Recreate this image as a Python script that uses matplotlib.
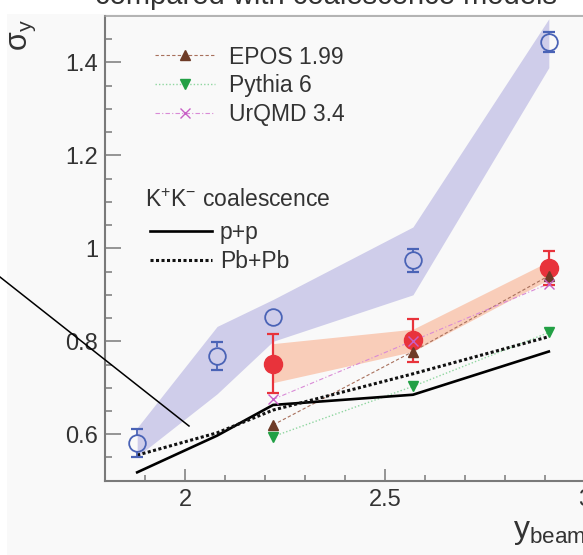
import matplotlib
matplotlib.use('Agg')
import matplotlib.pyplot as plt
from matplotlib.lines import Line2D
from matplotlib.patches import Rectangle
import numpy as np

plt.rcParams['font.family'] = ['Liberation Sans', 'DejaVu Sans']
plt.rcParams['mathtext.fontset'] = 'custom'
plt.rcParams['mathtext.rm'] = 'Liberation Sans'
plt.rcParams['mathtext.it'] = 'Liberation Sans'
plt.rcParams['mathtext.sf'] = 'Liberation Sans'

# ---------------- data ----------------
y_beam = [1.88, 2.08, 2.22, 2.57, 2.91]
open_sigma = [0.581, 0.769, 0.852, 0.974, 1.444]
open_err = [0.031, 0.030, 0.012, 0.025, 0.022]
open_sys_lo = [0.552, 0.687, 0.800, 0.900, 1.389]
open_sys_hi = [0.614, 0.832, 0.890, 1.046, 1.494]

y_beam_full = [2.22, 2.57, 2.91]
full_sigma = [0.752, 0.802, 0.958]
full_err = [0.064, 0.046, 0.036]
full_sys_lo = [0.711, 0.778, 0.933]
full_sys_hi = [0.795, 0.826, 0.972]

epos = [0.620, 0.778, 0.941]
pythia = [0.595, 0.703, 0.819]
urqmd = [0.675, 0.801, 0.924]

coal_pp = [0.518, 0.597, 0.663, 0.685, 0.778]
coal_pbpb = [0.555, 0.603, 0.652, 0.730, 0.810]

model_labels = ['EPOS 1.99', 'Pythia 6', 'UrQMD 3.4']
coal_labels = ['p+p', 'Pb+Pb']

x_ticks = [2, 2.5, 3]
x_ticklabels = ['2', '2.5', '3']
y_ticks = [0.6, 0.8, 1.0, 1.2, 1.4]
y_ticklabels = ['0.6', '0.8', '1', '1.2', '1.4']

# ---------------- styles ----------------
BLUE = '#4a63b6'
BLUE_BAND = '#cfcdea'
RED = '#e8333b'
RED_BAND = '#f9cdb9'
AXC = '#7a7a7a'
BG = '#f9f9f9'
TXT = '#333333'
EPOS_L, EPOS_M = '#a8705c', '#6e3b27'
PYT_L, PYT_M = '#8fd6a0', '#22a045'
URQ_L, URQ_M = '#d98ad6', '#c860c6'
DOT = (0, (1, 0.8))

W, H, DPI = 5.83, 5.55, 100
WPX, HPX = 583, 555
fig = plt.figure(figsize=(W, H), dpi=DPI, facecolor='white')
fig.add_artist(Rectangle((7 / WPX, 0), 1, 1 - 14 / HPX, transform=fig.transFigure,
                         facecolor=BG, edgecolor='none', zorder=-5))

ax_left, ax_bottom = 105.2 / WPX, 74.3 / HPX
ax_w, ax_h = (584.8 - 105.2) / WPX, (480.7 - 16) / HPX
ax = fig.add_axes([ax_left, ax_bottom, ax_w, ax_h])
ax.set_facecolor('none')
ax.set_xlim(1.8, 3.0)
ax.set_ylim(0.5, 1.5)

# systematic bands
ax.fill_between(y_beam, open_sys_lo, open_sys_hi, color=BLUE_BAND, lw=0, zorder=1)
ax.fill_between(y_beam_full, full_sys_lo, full_sys_hi, color=RED_BAND, lw=0, zorder=1)

# model lines
ax.plot(y_beam_full, epos, ls=(0, (3, 2)), lw=0.8, color=EPOS_L, zorder=2)
ax.plot(y_beam_full, pythia, ls=(0, (1, 1.5)), lw=1.0, color=PYT_L, zorder=2)
ax.plot(y_beam_full, urqmd, ls=(0, (4, 2, 1, 2)), lw=0.8, color=URQ_L, zorder=2)

# coalescence lines
ax.plot(y_beam, coal_pp, color='black', lw=1.9, zorder=3)
ax.plot(y_beam, coal_pbpb, color='#111111', lw=2.2, ls=DOT, dash_capstyle='butt', zorder=3)

# open points: error bars not drawn inside the open marker
ms_open = 12
r_data = (ms_open / 2 * DPI / 72) / (ax_h * HPX) * (1.5 - 0.5)
sel = [i for i in range(len(y_beam)) if open_err[i] > r_data]
xs = [y_beam[i] for i in sel]
ys = [open_sigma[i] for i in sel]
es = [open_err[i] for i in sel]
ax.errorbar(xs, ys, yerr=es, fmt='none', elinewidth=0, capsize=4.6, capthick=1.6,
            ecolor=BLUE, zorder=4)
ax.vlines(xs, [y + r_data for y in ys], [y + e for y, e in zip(ys, es)], color=BLUE, lw=1.3, zorder=4)
ax.vlines(xs, [y - e for y, e in zip(ys, es)], [y - r_data for y in ys], color=BLUE, lw=1.3, zorder=4)
ax.plot(y_beam, open_sigma, ls='none', marker='o', ms=ms_open, mfc='none', mec=BLUE, mew=1.3, zorder=4)

# full points
ax.errorbar(y_beam_full, full_sigma, yerr=full_err, fmt='o', ms=13, color=RED, mec=RED,
            elinewidth=1.6, capsize=4.6, capthick=1.6, zorder=5)

# model markers on top
ax.plot(y_beam_full, epos, ls='none', marker='^', ms=7.5, color=EPOS_M, zorder=6)
ax.plot(y_beam_full, pythia, ls='none', marker='v', ms=7.5, color=PYT_M, zorder=6)
ax.plot(y_beam_full, urqmd, ls='none', marker='x', ms=7.5, mew=1.0, color=URQ_M, zorder=6)

# axes styling
for s in ['left', 'bottom']:
    ax.spines[s].set_color(AXC)
    ax.spines[s].set_linewidth(1.5)
ax.spines['top'].set_color('#a0a0a0')
ax.spines['top'].set_linewidth(1.1)
ax.spines['right'].set_visible(False)

ax.set_xticks(x_ticks)
ax.set_xticklabels(x_ticklabels)
ax.set_yticks(y_ticks)
ax.set_yticklabels(y_ticklabels)
ax.set_xticks(np.arange(1.9, 3.001, 0.1), minor=True)
ax.set_yticks(np.arange(0.55, 1.5, 0.05), minor=True)
ax.tick_params(axis='both', which='both', direction='in', color=AXC, width=1.1,
               labelsize=17, labelcolor=TXT)
ax.tick_params(axis='y', which='major', length=11.2, pad=5)
ax.tick_params(axis='y', which='minor', length=5.3)
ax.tick_params(axis='x', which='major', length=8.9, pad=6)
ax.tick_params(axis='x', which='minor', length=4.2)

# ---------------- legends (placed on reference pixel targets) ----------------
LEG_FS = 16.5
fs_px = LEG_FS * DPI / 72


def model_handles():
    return [Line2D([], [], ls=(0, (3, 2)), lw=0.8, color=EPOS_L, marker='^', ms=7.5,
                   mfc=EPOS_M, mec=EPOS_M),
            Line2D([], [], ls=(0, (1, 1.5)), lw=1.0, color=PYT_L, marker='v', ms=7.5,
                   mfc=PYT_M, mec=PYT_M),
            Line2D([], [], ls=(0, (4, 2, 1, 2)), lw=0.8, color=URQ_L, marker='x', ms=7.5,
                   mew=1.0, mec=URQ_M)]


def coal_handles():
    return [Line2D([], [], color='black', lw=1.9),
            Line2D([], [], color='#111111', lw=2.2, ls=DOT, dash_capstyle='butt')]


def make_leg(handles, labels, anchor, hl, htp, ls):
    return ax.legend(handles, labels, loc='upper left', bbox_to_anchor=anchor,
                     bbox_transform=fig.transFigure, frameon=False, fontsize=LEG_FS,
                     handlelength=hl, handletextpad=htp, labelspacing=ls,
                     borderpad=0, borderaxespad=0, labelcolor=TXT)


def placed_legend(hfun, labels, line_x0, row0_y, row_dy, text_x0, hl):
    anchor = (line_x0 / WPX, 1 - (row0_y - 12) / HPX)
    htp, ls = 0.5, 0.2
    leg = make_leg(hfun(), labels, anchor, hl, htp, ls)
    fig.canvas.draw()
    r = fig.canvas.get_renderer()
    lines = leg.get_lines()
    b0 = lines[0].get_window_extent(r)
    b1 = lines[1].get_window_extent(r)
    t0 = leg.get_texts()[0].get_window_extent(r)
    cy0 = (b0.y0 + b0.y1) / 2
    cy1 = (b1.y0 + b1.y1) / 2
    ls_new = ls + (row_dy - (cy0 - cy1)) / fs_px
    htp_new = htp + (text_x0 - t0.x0) / fs_px
    dy = (HPX - row0_y) - cy0
    dx = line_x0 - min(b0.x0, b1.x0)
    leg.remove()
    anchor = (anchor[0] + dx / WPX, anchor[1] + dy / HPX)
    return make_leg(hfun(), labels, anchor, hl, htp_new, ls_new)


leg1 = placed_legend(model_handles, model_labels, line_x0=150, row0_y=55.5, row_dy=28.5,
                     text_x0=224, hl=60 / fs_px)
ax.add_artist(leg1)
leg2 = placed_legend(coal_handles, coal_labels, line_x0=150, row0_y=231, row_dy=29,
                     text_x0=220, hl=61.7 / fs_px)

# legend header for the coalescence curves
fig.text(145 / WPX, 1 - 206.7 / HPX, 'K$^{+}$K$^{-}$ coalescence', ha='left', va='baseline',
         fontsize=LEG_FS, color=TXT)

# axis titles
fig.text(23 / WPX, 1 - 19 / HPX, 'σ$_{\\mathrm{y}}$', rotation=90, ha='center', va='top',
         fontsize=22, color=TXT)
fig.text(586 / WPX, 1 - 538 / HPX, 'y$_{\\mathrm{beam}}$', ha='right', va='baseline',
         fontsize=23, color=TXT)

# partially visible title at the top
fig.text(0.56, 1 - 4 / HPX, 'compared with coalescence models', ha='center', va='baseline',
         fontsize=21, color=TXT)

# stray annotation stroke
fig.add_artist(Line2D([0, 189 / WPX], [1 - 277 / HPX, 1 - 426 / HPX],
                      transform=fig.transFigure, color='black', lw=1.1, zorder=10))

fig.savefig('out.png', dpi=DPI, facecolor='white')
